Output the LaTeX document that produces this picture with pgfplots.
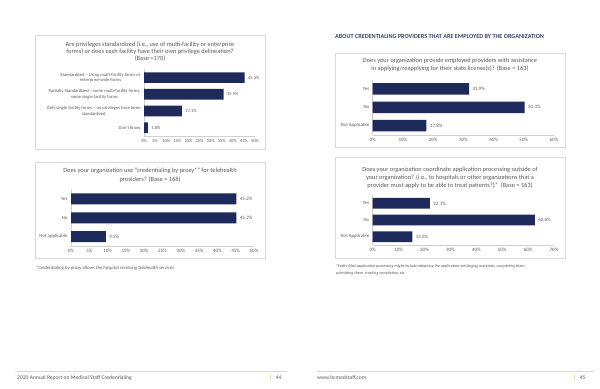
\documentclass[border=0pt]{standalone}
\usepackage{pgfplots}
\pgfplotsset{compat=1.18}
\usepackage{fontspec}
\setmainfont{Carlito}
\definecolor{barnavy}{HTML}{1F2A5C}
\definecolor{txtgray}{HTML}{595959}
\definecolor{framegray}{HTML}{D9D9D9}
\definecolor{axgray}{HTML}{D0D0D0}
\definecolor{headnavy}{HTML}{3B4568}
\definecolor{footgold}{HTML}{F2B134}
\pgfplotsset{
  hb/.style={
    xbar, scale only axis,
    axis x line*=bottom, axis y line*=left,
    axis line style={draw=axgray, line width=0.5pt},
    major tick length=0pt,
    /pgf/number format/assume math mode=true,
    xmin=0, ymin=-0.5,
    xticklabel={\pgfmathprintnumber{\tick}\%},
    xticklabel style={font=\fontsize{5}{6}\selectfont, text=txtgray},
    yticklabel style={font=\fontsize{4.8}{5.6}\selectfont, text=txtgray, align=center},
    point meta=x,
    nodes near coords={\pgfmathprintnumber[fixed,fixed zerofill,precision=1]{\pgfplotspointmeta}\%},
    nodes near coords style={font=\fontsize{5}{6}\selectfont, text=txtgray},
    clip=false,
  }
}
\begin{document}
\begin{tikzpicture}[x=1bp,y=1bp]
\path[use as bounding box, fill=white] (0,0) rectangle (600,388);
% frames
\draw[framegray, line width=0.5pt] (35.7,353) rectangle (265,239);
\draw[framegray, line width=0.5pt] (335.7,334.7) rectangle (565,240.7);
\draw[framegray, line width=0.5pt] (35.7,226) rectangle (265,130);
\draw[framegray, line width=0.5pt] (335.7,231) rectangle (565,130);
% header
\node[anchor=west, inner sep=0, text=headnavy, font=\fontsize{6.2}{7}\selectfont\bfseries] at (335,351.3) {ABOUT CREDENTIALING PROVIDERS THAT ARE EMPLOYED BY THE ORGANIZATION};
% titles
\node[align=center, inner sep=0, text=txtgray, font=\fontsize{6.4}{7}\selectfont] at (150,336) {Are privileges standardized (i.e., use of multi-facility or enterprise\\forms) or does each facility have their own privilege delineation?\\(Base =170)};
\node[align=center, inner sep=0, text=txtgray, font=\fontsize{6.4}{8}\selectfont] at (450,323) {Does your organization provide employed providers with assistance\\in applying/reapplying for their state license(s)? (Base = 163)};
\node[align=center, inner sep=0, text=txtgray, font=\fontsize{6.4}{8.3}\selectfont] at (150,212.8) {Does your organization use “credentialing by proxy*” for telehealth\\providers? (Base = 168)};
\node[align=center, inner sep=0, text=txtgray, font=\fontsize{6.4}{8.2}\selectfont] at (450,210.5) {Does your organization coordinate application processing outside of\\your organization? (i.e., to hospitals or other organizations that a\\provider must apply to be able to treat patients?)*~~(Base = 163)};
% footnotes
\node[anchor=west, inner sep=0, text=txtgray, font=\fontsize{4.8}{5}\selectfont\itshape] at (35.7,119.7) {*Credentialing by proxy allows the hospital receiving telehealth services};
\node[anchor=north west, align=left, inner sep=0, text=txtgray, font=\fontsize{4.1}{6.6}\selectfont\itshape] at (335.7,123.5) {*Entity-filed application processing might include obtaining the application/privileging materials, completing them,\\submitting them, tracking completion, etc.};
% footer
\draw[framegray, line width=0.4pt] (15,16.5) -- (287,16.5);
\draw[framegray, line width=0.4pt] (317,16.5) -- (594,16.5);
\node[anchor=west, inner sep=0, text=txtgray, font=\fontsize{5.6}{7}\selectfont] at (17,10) {2020 Annual Report on Medical Staff Credentialing};
\node[anchor=west, inner sep=0, text=txtgray, font=\fontsize{5.6}{7}\selectfont] at (269,10) {\textcolor{footgold}{\textbf{|}}\hspace{4bp}44};
\node[anchor=west, inner sep=0, text=txtgray, font=\fontsize{5.6}{7}\selectfont] at (317,10) {www.hcmedstaff.com};
\node[anchor=west, inner sep=0, text=txtgray, font=\fontsize{5.6}{7}\selectfont] at (573,10) {\textcolor{footgold}{\textbf{|}}\hspace{4bp}45};
% chart 1
\begin{axis}[hb, at={(144bp,252bp)}, anchor=south west,
  width=111bp, height=66.7bp, xmax=50, ymax=3.5, bar width=10.7bp,
  xtick={0,5,...,50}, ytick={0,1,2,3},
  xticklabel style={font=\fontsize{4.5}{5}\selectfont},
  yticklabel style={font=\fontsize{4.6}{5.4}\selectfont},
  nodes near coords style={font=\fontsize{4.5}{5}\selectfont},
  yticklabels={Don’t Know,
    {Only single facility forms – no privileges have been\\standardized},
    {Partially Standardized – some multi-facility forms,\\some single facility forms},
    {Standardized – Using multi-facility forms or\\enterprise-wide forms}}]
\addplot[fill=barnavy, draw=none] coordinates {(45.3,3) (35.9,2) (17.1,1) (1.8,0)};
\end{axis}
% chart 2
\begin{axis}[hb, at={(372.7bp,253.2bp)}, anchor=south west,
  width=181.3bp, height=55bp, xmax=60, ymax=2.5, bar width=11.5bp,
  xtick={0,10,...,60}, ytick={0,1,2},
  yticklabels={Not Applicable, No, Yes}]
\addplot[fill=barnavy, draw=none] coordinates {(31.9,2) (50.3,1) (17.8,0)};
\end{axis}
% chart 3
\begin{axis}[hb, at={(71bp,142bp)}, anchor=south west,
  width=183bp, height=56.5bp, xmax=50, ymax=2.5, bar width=11bp,
  xtick={0,5,...,50}, ytick={0,1,2},
  yticklabels={Not applicable, No, Yes}]
\addplot[fill=barnavy, draw=none] coordinates {(45.2,2) (45.2,1) (9.5,0)};
\end{axis}
% chart 4
\begin{axis}[hb, at={(372.7bp,143bp)}, anchor=south west,
  width=181.3bp, height=50bp, xmax=70, ymax=2.5, bar width=10.7bp,
  xtick={0,10,...,70}, ytick={0,1,2},
  yticklabels={Not Applicable, No, Yes}]
\addplot[fill=barnavy, draw=none] coordinates {(22.1,2) (62.6,1) (15.3,0)};
\end{axis}
\end{tikzpicture}
\end{document}
